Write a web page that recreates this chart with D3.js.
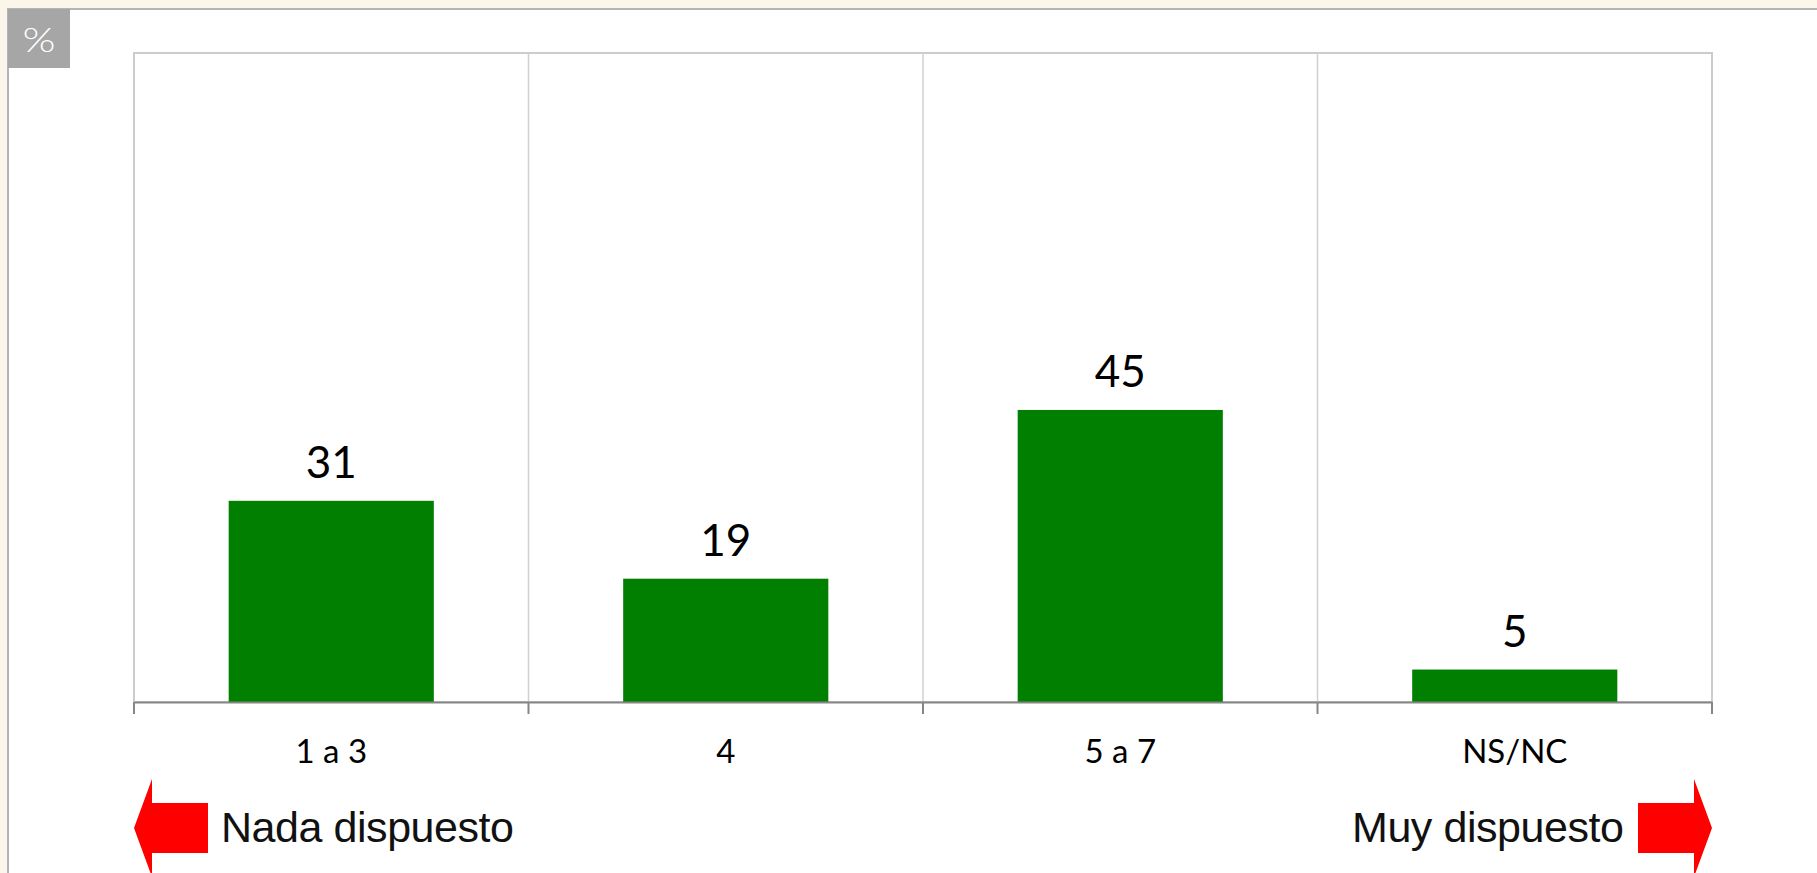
<!DOCTYPE html>
<html><head><meta charset="utf-8">
<script src="https://cdn.jsdelivr.net/npm/d3@7"></script>
<style>
html,body{margin:0;padding:0;background:#faf7ea;overflow:hidden;}
svg{display:block;}
</style></head>
<body>
<script>
const categories = ["1 a 3", "4", "5 a 7", "NS/NC"];
const values = [31, 19, 45, 5];
const unitLabel = "%";
const leftLabel = "Nada dispuesto";
const rightLabel = "Muy dispuesto";

const W = 1817, H = 873;
const svg = d3.select("body").append("svg").attr("width", W).attr("height", H);

// panel
svg.append("rect").attr("x", 8).attr("y", 9).attr("width", W).attr("height", H)
  .attr("fill", "#ffffff").attr("stroke", "#b4b4b4").attr("stroke-width", 2);

// % box
svg.append("rect").attr("x", 8).attr("y", 9).attr("width", 62).attr("height", 59).attr("fill", "#a6a6a6");
svg.append("text").attr("x", 39).attr("y", 52).attr("text-anchor", "middle")
  .attr("font-family", "Lato, sans-serif").attr("font-weight", 300).attr("font-size", 34)
  .attr("textLength", 33).attr("lengthAdjust", "spacingAndGlyphs").attr("fill", "#fff").text(unitLabel);

const m = {left: 134, right: 1712, top: 53, bottom: 702};
const x = d3.scaleBand().domain(categories).range([m.left, m.right]).paddingInner(0).paddingOuter(0);
const y = d3.scaleLinear().domain([0, 100]).range([m.bottom, m.top]);

// plot border
svg.append("rect").attr("x", m.left).attr("y", m.top).attr("width", m.right - m.left).attr("height", m.bottom - m.top)
  .attr("fill", "none").attr("stroke", "#cccccc").attr("stroke-width", 2);

// vertical gridlines between categories
svg.selectAll("line.grid").data(categories.slice(1)).enter().append("line")
  .attr("x1", d => x(d)).attr("x2", d => x(d)).attr("y1", m.top).attr("y2", m.bottom)
  .attr("stroke", "#d0d0d0").attr("stroke-width", 1.5);

// bars
const bw = x.bandwidth() * 0.52;
svg.selectAll("rect.bar").data(values).enter().append("rect")
  .attr("x", (d, i) => x(categories[i]) + (x.bandwidth() - bw) / 2)
  .attr("y", d => y(d)).attr("width", bw).attr("height", d => y(0) - y(d))
  .attr("fill", "#007f00");

// value labels
svg.selectAll("text.val").data(values).enter().append("text")
  .attr("x", (d, i) => x(categories[i]) + x.bandwidth() / 2)
  .attr("y", d => y(d) - 23).attr("text-anchor", "middle")
  .attr("font-family", "Lato, sans-serif").attr("font-size", 44).attr("fill", "#000").text(d => d);

// x axis
const axis = d3.axisBottom(x).tickSize(0).tickPadding(0);
const gAx = svg.append("g").attr("transform", `translate(0,${m.bottom})`).call(axis);
gAx.select(".domain").attr("stroke", "#868686").attr("stroke-width", 2);
gAx.selectAll(".tick text").attr("font-family", "Lato, sans-serif").attr("font-size", 33)
  .attr("fill", "#000").attr("dy", 0).attr("y", 61);
// boundary tick marks
const bounds = categories.map(c => x(c)).concat([x.range()[1]]);
svg.selectAll("line.tk").data(bounds).enter().append("line")
  .attr("x1", d => d).attr("x2", d => d).attr("y1", m.bottom).attr("y2", m.bottom + 12)
  .attr("stroke", "#868686").attr("stroke-width", 2);

// arrows
const cy = 828;
svg.append("path").attr("fill", "#ff0000")
  .attr("d", `M${m.left},${cy} L152,779 L152,803 L208,803 L208,853 L152,853 L152,877 Z`);
svg.append("path").attr("fill", "#ff0000")
  .attr("d", `M${m.right},${cy} L1694,779 L1694,803 L1638,803 L1638,853 L1694,853 L1694,877 Z`);

svg.append("text").attr("x", 221).attr("y", 842).attr("font-family", "Liberation Sans, Arial, sans-serif")
  .attr("font-size", 43).attr("textLength", 293).attr("fill", "#111").text(leftLabel);
svg.append("text").attr("x", 1352).attr("y", 842).attr("font-family", "Liberation Sans, Arial, sans-serif")
  .attr("font-size", 43).attr("textLength", 272).attr("fill", "#111").text(rightLabel);
</script>
</body></html>
